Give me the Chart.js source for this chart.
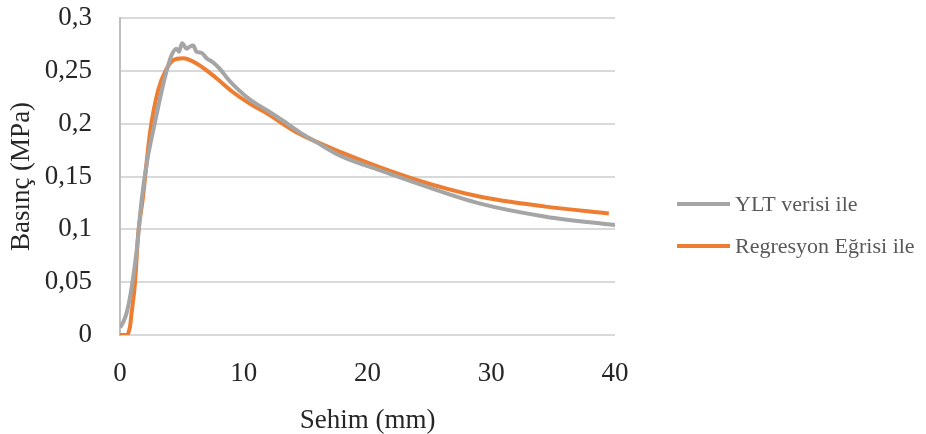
<!DOCTYPE html>
<html>
<head>
<meta charset="utf-8">
<script src="https://cdn.jsdelivr.net/npm/chart.js@4.4.1/dist/chart.umd.min.js"></script>
<style>
  html, body { margin: 0; padding: 0; background: #ffffff; }
</style>
</head>
<body>
<canvas id="basinc_chart" width="926" height="434"></canvas>
<script>
// YLT verisi ile (gri)
var ylt_x = [0, 0.25, 0.54, 0.94, 1.35, 1.75, 2.2, 2.69, 3.2, 3.63, 4.17, 4.57, 4.76, 5.02, 5.38, 5.65, 5.91, 6.19, 6.59, 6.99, 7.4, 7.8, 8.2, 8.6, 9.14, 10.48, 11.83, 13.15, 14.5, 15.8, 17.74, 20.97, 23.65, 29.03, 34.4, 40.0];
var ylt_y = [0.007, 0.012, 0.021, 0.045, 0.080, 0.128, 0.165, 0.194, 0.222, 0.244, 0.265, 0.271, 0.268, 0.276, 0.271, 0.273, 0.274, 0.268, 0.267, 0.262, 0.259, 0.255, 0.250, 0.244, 0.237, 0.223, 0.213, 0.203, 0.192, 0.183, 0.170, 0.156, 0.145, 0.1246, 0.112, 0.104];

// Regresyon Eğrisi ile (turuncu)
var reg_x = [0, 0.54, 0.68, 0.81, 0.94, 1.21, 1.48, 1.83, 2.42, 3.09, 3.77, 4.3, 5.1, 6.19, 7.8, 9.11, 10.48, 11.83, 14.25, 17.74, 23.65, 29.03, 34.4, 39.5];
var reg_y = [0, 0, 0.002, 0.008, 0.021, 0.049, 0.097, 0.128, 0.191, 0.232, 0.252, 0.260, 0.262, 0.257, 0.243, 0.230, 0.219, 0.210, 0.192, 0.1735, 0.148, 0.131, 0.1215, 0.115];

var series_names = ["YLT verisi ile", "Regresyon Eğrisi ile"];
var x_tick_labels = ["0", "10", "20", "30", "40"];
var y_tick_labels = ["0", "0,05", "0,1", "0,15", "0,2", "0,25", "0,3"];

var SERIF = "'Liberation Serif', 'DejaVu Serif', serif";

function to_points(xs, ys) {
  return xs.map(function (x, i) { return { x: x, y: ys[i] }; });
}

// the built-in legend gets squeezed to a quarter of the width when it sits
// on the right next to a y axis, so draw the legend here instead
var side_legend = {
  id: 'side_legend',
  afterDraw: function (chart) {
    var ctx = chart.ctx;
    var left = chart.chartArea.right + 62;
    var row_gap = 42;
    var first_y = chart.height / 2 - 13;

    ctx.save();
    ctx.font = "22px " + SERIF;
    ctx.textBaseline = 'middle';
    ctx.textAlign = 'left';
    chart.data.datasets.forEach(function (ds, i) {
      var y = first_y + i * row_gap;
      ctx.strokeStyle = ds.borderColor;
      ctx.lineWidth = 4;
      ctx.beginPath();
      ctx.moveTo(left, y);
      ctx.lineTo(left + 53, y);
      ctx.stroke();
      ctx.fillStyle = "#595959";
      ctx.fillText(ds.label, left + 58, y + 1);
    });
    ctx.restore();
  }
};

function no_overhang(scale) {
  scale.paddingTop = 0;
  scale.paddingBottom = 0;
  scale.paddingLeft = 0;
  scale.paddingRight = 0;
}

function draw_chart() {
  var ctx = document.getElementById("basinc_chart").getContext('2d');

  new Chart(ctx, {
    type: 'scatter',
    data: {
      datasets: [{
        label: series_names[0],
        data: to_points(ylt_x, ylt_y),
        showLine: true,
        borderColor: "#a5a5a5",
        backgroundColor: "#a5a5a5",
        borderWidth: 4,
        pointRadius: 0,
        cubicInterpolationMode: 'monotone'
      }, {
        label: series_names[1],
        data: to_points(reg_x, reg_y),
        showLine: true,
        borderColor: "#ed7d31",
        backgroundColor: "#ed7d31",
        borderWidth: 4,
        pointRadius: 0,
        cubicInterpolationMode: 'monotone'
      }]
    },
    options: {
      responsive: false,
      animation: false,
      devicePixelRatio: 1,
      layout: {
        autoPadding: false,
        padding: { top: 18, right: 311, left: 0, bottom: 0 }
      },
      plugins: {
        tooltip: { enabled: false },
        legend: { display: false }
      },
      scales: {
        x: {
          type: 'linear',
          min: 0,
          max: 40,
          grid: { display: false },
          border: { display: false },
          ticks: {
            stepSize: 10,
            padding: 15,
            color: "#262626",
            font: { family: SERIF, size: 27 },
            callback: function (value) { return x_tick_labels[Math.round(value / 10)]; }
          },
          title: {
            display: true,
            text: "Sehim (mm)",
            color: "#262626",
            font: { family: SERIF, size: 27 },
            padding: { top: 4, bottom: -3 }
          },
          afterFit: function (scale) { scale.height = 99; no_overhang(scale); }
        },
        y: {
          type: 'linear',
          min: 0,
          max: 0.3,
          grid: { color: "#d9d9d9", lineWidth: 2, drawTicks: false },
          border: { display: true, color: "#bfbfbf", width: 2 },
          ticks: {
            stepSize: 0.05,
            padding: 28,
            color: "#262626",
            font: { family: SERIF, size: 27 },
            callback: function (value) { return y_tick_labels[Math.round(value / 0.05)]; }
          },
          title: {
            display: true,
            text: "Basınç (MPa)",
            color: "#262626",
            font: { family: SERIF, size: 27 },
            padding: { top: 6, bottom: 4 }
          },
          afterFit: function (scale) { scale.width = 120; no_overhang(scale); }
        }
      }
    },
    plugins: [side_legend]
  });
}

draw_chart();
</script>
</body>
</html>
